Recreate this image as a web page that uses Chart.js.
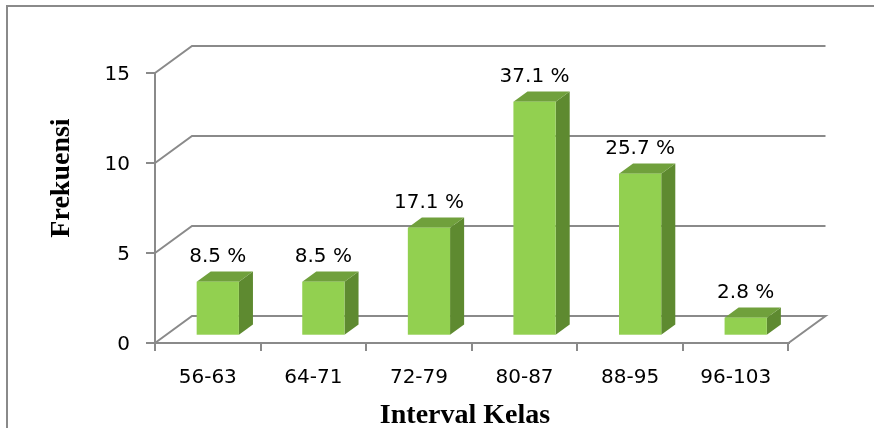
<!DOCTYPE html>
<html>
<head>
<meta charset="utf-8">
<script src="https://cdn.jsdelivr.net/npm/chart.js@4.4.1/dist/chart.umd.min.js"></script>
<style>
  html, body { margin: 0; padding: 0; background: #fff; }
  canvas { display: block; }
</style>
</head>
<body>
<canvas id="freq" width="874" height="428"></canvas>
<script>
"use strict";

const intervals = ['56-63', '64-71', '72-79', '80-87', '88-95', '96-103'];
const frequencies = [3, 3, 6, 13, 9, 1];
const percentLabels = ['8.5 %', '8.5 %', '17.1 %', '37.1 %', '25.7 %', '2.8 %'];

const GRID = '#8a8a8a';
const DEPTH_X = 37, DEPTH_Y = 27;       // offset of the back wall
const BAR_NEAR = 0.27, BAR_FAR = 0.65;  // where the boxes sit inside the floor depth
const FACE = '#92d050', SIDE = '#5e8a30', TOP = '#70a03c';

const TICK_FONT = { family: 'DejaVu Sans', size: 20 };
const TITLE_FONT = 'bold 28px "Liberation Serif", "Times New Roman", serif';

// back wall, floor edges and the outer frame
const wallPlugin = {
  id: 'wall',
  beforeDraw(chart) {
    const ctx = chart.ctx;
    ctx.save();
    ctx.strokeStyle = GRID;
    ctx.lineWidth = 2;
    ctx.beginPath();
    ctx.moveTo(7, chart.height);
    ctx.lineTo(7, 6);
    ctx.lineTo(chart.width, 6);
    ctx.stroke();
    ctx.restore();
  },
  beforeDatasetsDraw(chart) {
    const { ctx, chartArea: area, scales: { y } } = chart;
    ctx.save();
    ctx.strokeStyle = GRID;
    ctx.lineWidth = 2;
    y.ticks.forEach(t => {
      const py = y.getPixelForValue(t.value);
      ctx.beginPath();
      ctx.moveTo(area.left, py);
      ctx.lineTo(area.left + DEPTH_X, py - DEPTH_Y);
      ctx.lineTo(area.right + DEPTH_X, py - DEPTH_Y);
      if (t.value === 0) ctx.lineTo(area.right, py);
      ctx.stroke();
    });
    ctx.restore();
  },
};

// draws each bar as a box, then the percentage labels and axis titles
const boxPlugin = {
  id: 'boxes',
  afterDatasetsDraw(chart) {
    const ctx = chart.ctx;
    const meta = chart.getDatasetMeta(0);
    const nx = BAR_NEAR * DEPTH_X, ny = BAR_NEAR * DEPTH_Y;
    const dx = (BAR_FAR - BAR_NEAR) * DEPTH_X, dy = (BAR_FAR - BAR_NEAR) * DEPTH_Y;
    ctx.save();
    meta.data.forEach((bar, i) => {
      const { x, y, base, width } = bar.getProps(['x', 'y', 'base', 'width'], true);
      const l = x - width / 2 + nx, r = x + width / 2 + nx;
      const top = y - ny, bot = base - ny;

      ctx.fillStyle = SIDE;
      ctx.beginPath();
      ctx.moveTo(r, top);
      ctx.lineTo(r + dx, top - dy);
      ctx.lineTo(r + dx, bot - dy);
      ctx.lineTo(r, bot);
      ctx.closePath();
      ctx.fill();

      ctx.fillStyle = TOP;
      ctx.beginPath();
      ctx.moveTo(l, top);
      ctx.lineTo(l + dx, top - dy);
      ctx.lineTo(r + dx, top - dy);
      ctx.lineTo(r, top);
      ctx.closePath();
      ctx.fill();

      ctx.fillStyle = FACE;
      ctx.fillRect(l, top, r - l, bot - top);

      ctx.fillStyle = '#000';
      ctx.font = '20px "DejaVu Sans"';
      ctx.textAlign = 'center';
      ctx.textBaseline = 'alphabetic';
      ctx.fillText(percentLabels[i], (l + r) / 2, top - dy - 9);
    });

    ctx.font = TITLE_FONT;
    ctx.fillStyle = '#000';
    ctx.textAlign = 'center';
    ctx.textBaseline = 'alphabetic';
    ctx.fillText('Interval Kelas', 465, 423);

    ctx.translate(69, 178);
    ctx.rotate(-Math.PI / 2);
    ctx.fillText('Frekuensi', 0, 0);
    ctx.restore();
  },
};

new Chart(document.getElementById('freq'), {
  type: 'bar',
  data: {
    labels: intervals,
    datasets: [{
      data: frequencies,
      backgroundColor: 'rgba(0,0,0,0)',
      borderWidth: 0,
      barPercentage: 0.4,
      categoryPercentage: 1.0,
    }],
  },
  options: {
    responsive: false,
    animation: false,
    layout: { padding: { top: 73, right: 85.5, left: 0, bottom: 0 } },
    plugins: { legend: { display: false }, tooltip: { enabled: false } },
    scales: {
      x: {
        afterFit(scale) { scale.height = 85; },
        grid: { drawOnChartArea: false, color: GRID, lineWidth: 2, tickLength: 8, offset: true },
        border: { display: true, color: GRID, width: 2 },
        ticks: { color: '#000', font: TICK_FONT, padding: 15, maxRotation: 0 },
      },
      y: {
        min: 0,
        max: 15,
        afterFit(scale) { scale.width = 155; },
        grid: { drawOnChartArea: false, color: GRID, lineWidth: 2, tickLength: 9 },
        border: { display: true, color: GRID, width: 2 },
        ticks: { color: '#000', font: TICK_FONT, padding: 16, stepSize: 5, labelOffset: 2 },
      },
    },
  },
  plugins: [wallPlugin, boxPlugin],
});
</script>
</body>
</html>
